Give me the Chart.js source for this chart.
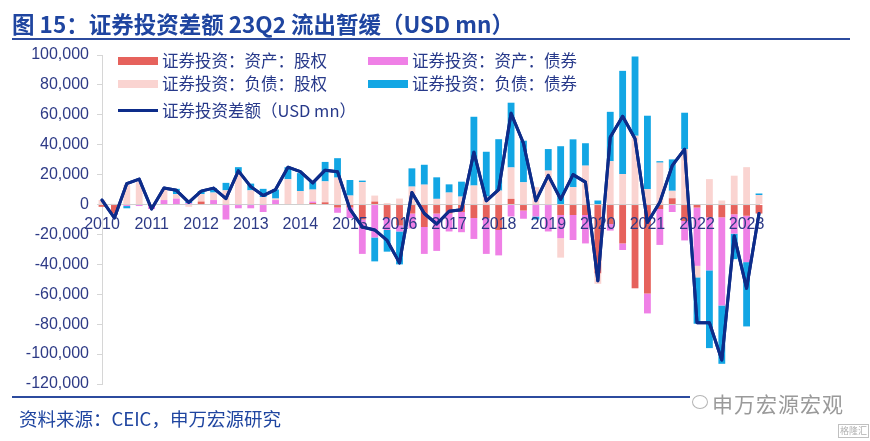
<!DOCTYPE html>
<html>
<head>
<meta charset="utf-8">
<script src="https://cdn.jsdelivr.net/npm/chart.js@4.4.0/dist/chart.umd.min.js"></script>
<style>
  html, body { margin: 0; padding: 0; background: #ffffff; }
  #wrap { position: relative; width: 870px; height: 441px; overflow: hidden; background: #fff; }
  #c { position: absolute; left: 0; top: 0; }
  .title { position: absolute; left: 12px; top: 10px; font-family: "Noto Sans CJK SC", sans-serif; font-weight: 700; font-size: 22.5px; line-height: 26px; color: #1f45a0; white-space: nowrap; }
  .rule { position: absolute; background: #2c4b9e; height: 2px; }
  .leg { position: absolute; font-family: "Noto Sans CJK SC", sans-serif; font-size: 16.5px; line-height: 19px; color: #27398a; white-space: nowrap; }
  .sw { position: absolute; width: 40px; }
  .src { position: absolute; left: 19px; top: 407px; font-family: "Noto Sans CJK SC", sans-serif; font-size: 18.5px; line-height: 22px; color: #1f45a0; white-space: nowrap; }
  .wm { position: absolute; left: 712px; top: 391px; font-family: "Noto Sans CJK SC", sans-serif; font-size: 21px; line-height: 24px; color: #9a9a9a; white-space: nowrap; letter-spacing: 1px; }
  .wm2 { position: absolute; left: 838px; top: 424px; font-family: "Noto Sans CJK SC", sans-serif; font-size: 9px; line-height: 12px; color: #b0b0b0; border: 1px solid #c0c0c0; padding: 0 1px; }
  .icon { position: absolute; left: 692px; top: 395px; width: 14px; height: 12px; border: 1.5px solid #b5b5b5; border-radius: 50%; }
</style>
</head>
<body>
<div id="wrap">
  <canvas id="c" width="870" height="441"></canvas>
  <div class="title">图 15：证券投资差额 23Q2 流出暂缓（USD mn）</div>
  <div class="rule" style="left:12px; top:38px; width:838px;"></div>
  <div class="rule" style="left:12px; top:396px; width:678px;"></div>
  <div id="legend"></div>
  <div class="src">资料来源：CEIC，申万宏源研究</div>
  <div class="icon"></div>
  <div class="wm">申万宏源宏观</div>
  <div class="wm2">格隆汇</div>
</div>
<script>
// ---- Data (USD mn), quarterly 2010Q1 – 2023Q2 ----
const categories = [
  '2010Q1','2010Q2','2010Q3','2010Q4','2011Q1','2011Q2','2011Q3','2011Q4',
  '2012Q1','2012Q2','2012Q3','2012Q4','2013Q1','2013Q2','2013Q3','2013Q4',
  '2014Q1','2014Q2','2014Q3','2014Q4','2015Q1','2015Q2','2015Q3','2015Q4',
  '2016Q1','2016Q2','2016Q3','2016Q4','2017Q1','2017Q2','2017Q3','2017Q4',
  '2018Q1','2018Q2','2018Q3','2018Q4','2019Q1','2019Q2','2019Q3','2019Q4',
  '2020Q1','2020Q2','2020Q3','2020Q4','2021Q1','2021Q2','2021Q3','2021Q4',
  '2022Q1','2022Q2','2022Q3','2022Q4','2023Q1','2023Q2'
];
const yearTickLabels = ['2010','2011','2012','2013','2014','2015','2016','2017','2018','2019','2020','2021','2022','2023'];
const yTickValues = [100000,80000,60000,40000,20000,0,-20000,-40000,-60000,-80000,-100000,-120000];

// 证券投资：资产：股权
const assetEquity = [
  -1500,-6000,0,0,-1000,0,0,0,
  2000,0,0,0,0,0,0,0,
  0,1000,1500,-2000,-2000,-10000,2000,-9000,
  -14000,-6000,-15000,-6000,-6000,-5000,-9000,-9000,
  -17000,3800,-4000,0,0,-7000,-7000,-7000,
  -46000,-13000,-26000,-56000,-59500,-3000,4200,-11000,
  -2000,-8500,-8500,-6500,-7500,-6000
];
// 证券投资：资产：债券
const assetBond = [
  0,-1000,-1000,-1000,-2000,3000,4000,1000,
  0,3000,-10000,-2500,-2500,-5000,3000,0,
  0,1000,0,-3500,-7000,-23000,-22000,-8000,
  -4000,-10000,-18000,-25000,-12000,-13500,-14000,-24000,
  -17000,-8000,-5500,-8000,-18000,-15500,-16700,-19000,
  0,-4400,-4400,0,-13300,-24000,-5000,-13000,
  -39000,-35500,-59000,-13000,-31000,0
];
// 证券投资：负债：股权
const liabEquity = [
  3000,500,13000,15000,0,7000,3000,-1500,
  5000,5000,9500,21000,9500,5000,1000,17000,
  9000,8000,14000,18000,6000,15000,4000,1000,
  4000,12000,13300,3800,8000,5300,12700,5300,
  9300,21000,14900,11600,22700,-13000,11600,26000,
  -7000,29000,20400,46000,10400,28000,5000,37000,
  -7700,17000,2700,19300,25000,6400
];
// 证券投资：负债：债券
const liabBond = [
  0,0,-1500,0,0,0,3500,1000,
  2000,3000,5000,4000,4500,5500,6000,8000,
  12000,5000,13000,13000,10400,1000,-16000,-14500,
  -22000,12200,13300,14400,5500,10000,46000,30000,
  34400,43300,27800,-2000,14400,39000,32000,15000,
  2700,33000,69000,53000,49000,1000,21000,24400,
  -31000,-52000,-39000,-17000,-43000,1000
];
// 证券投资差额（USD mn）
const netBalance = [
  3000,-9000,14000,17000,-3000,11000,9500,1500,
  9000,11000,4000,22500,12000,6000,10000,25000,
  22000,14500,23000,22000,-3000,-15000,-17000,-24000,
  -39000,8000,-6000,-13000,-4500,-3500,35000,2500,
  10000,61000,41000,2500,19500,3500,20000,15000,
  -51000,45000,59000,44000,-12000,1500,26000,37000,
  -79000,-79000,-104000,-21000,-56000,-6000
];

const seriesNames = ['证券投资：资产：股权','证券投资：资产：债券','证券投资：负债：股权','证券投资：负债：债券','证券投资差额（USD mn）'];
const seriesColors = ['#e6625c','#ef80e6','#fad4d1','#12a6e4','#0d2c8a'];

// ---- legend (HTML) ----
const legendItems = [
  {name: seriesNames[0], color: seriesColors[0], kind: 'box', x: 118, y: 60.5},
  {name: seriesNames[1], color: seriesColors[1], kind: 'box', x: 368, y: 60.5},
  {name: seriesNames[2], color: seriesColors[2], kind: 'box', x: 118, y: 84},
  {name: seriesNames[3], color: seriesColors[3], kind: 'box', x: 368, y: 84},
  {name: seriesNames[4], color: seriesColors[4], kind: 'line', x: 118, y: 110.5}
];
const legendEl = document.getElementById('legend');
legendItems.forEach(it => {
  const sw = document.createElement('div');
  sw.className = 'sw';
  const h = it.kind === 'box' ? 8 : 3.5;
  sw.style.left = it.x + 'px';
  sw.style.top = (it.y - h / 2) + 'px';
  sw.style.height = h + 'px';
  sw.style.background = it.color;
  legendEl.appendChild(sw);
  const tx = document.createElement('div');
  tx.className = 'leg';
  tx.textContent = it.name;
  tx.style.left = (it.x + 44) + 'px';
  tx.style.top = (it.y - 10) + 'px';
  legendEl.appendChild(tx);
});

// redraw the net-balance line above the axis labels
const lineOnTop = {
  id: 'lineOnTop',
  afterDraw(chart) {
    const meta = chart.getDatasetMeta(0);
    if (meta && meta.controller) {
      chart.ctx.save();
      meta.controller.draw();
      chart.ctx.restore();
    }
  }
};

// ---- chart ----
const barCommon = { type: 'bar', stack: 'flows', barPercentage: 0.55, categoryPercentage: 1.0, borderWidth: 0, clip: false, order: 2 };
new Chart(document.getElementById('c'), {
  data: {
    labels: categories,
    datasets: [
      { type: 'line', label: seriesNames[4], data: netBalance, borderColor: seriesColors[4], backgroundColor: seriesColors[4],
        borderWidth: 3, pointRadius: 0, tension: 0, stack: 'net', clip: false, order: 0,
        borderJoinStyle: 'round', borderCapStyle: 'round' },
      Object.assign({ label: seriesNames[0], data: assetEquity, backgroundColor: seriesColors[0] }, barCommon),
      Object.assign({ label: seriesNames[1], data: assetBond, backgroundColor: seriesColors[1] }, barCommon),
      Object.assign({ label: seriesNames[2], data: liabEquity, backgroundColor: seriesColors[2] }, barCommon),
      Object.assign({ label: seriesNames[3], data: liabBond, backgroundColor: seriesColors[3] }, barCommon)
    ]
  },
  plugins: [lineOnTop],
  options: {
    responsive: false,
    animation: false,
    devicePixelRatio: 1,
    layout: { padding: { left: 0, top: 55, right: 111, bottom: 57 } },
    plugins: { legend: { display: false }, title: { display: false }, tooltip: { enabled: false } },
    scales: {
      x: {
        type: 'category',
        position: { y: 0 },
        offset: false,
        stacked: true,
        grid: { display: false, drawTicks: false },
        border: { display: true, color: '#cfcfcf', width: 1, z: 0 },
        ticks: {
          z: 1,
          autoSkip: false, maxRotation: 0, minRotation: 0, padding: 10,
          color: '#2d3a86',
          font: { family: 'Liberation Sans, Arial, sans-serif', size: 16 },
          callback: function(v, i) {
            const c = categories[i];
            if (c.endsWith('Q1')) { const y = c.slice(0, 4); return yearTickLabels.includes(y) ? y : ''; }
            return '';
          }
        }
      },
      y: {
        stacked: true,
        min: -120000, max: 100000,
        afterFit: function(s) { s.width = 102; },
        afterBuildTicks: function(s) { s.ticks = yTickValues.map(v => ({ value: v })); },
        grid: { display: true, drawOnChartArea: false, drawTicks: true, tickLength: 5, color: '#d6d6d6' },
        border: { display: true, color: '#d6d6d6', width: 1 },
        ticks: {
          padding: 8,
          color: '#2d3a86',
          font: { family: 'Liberation Sans, Arial, sans-serif', size: 16 },
          callback: function(v) { return Number(v).toLocaleString('en-US'); }
        }
      }
    }
  }
});
</script>
</body>
</html>
